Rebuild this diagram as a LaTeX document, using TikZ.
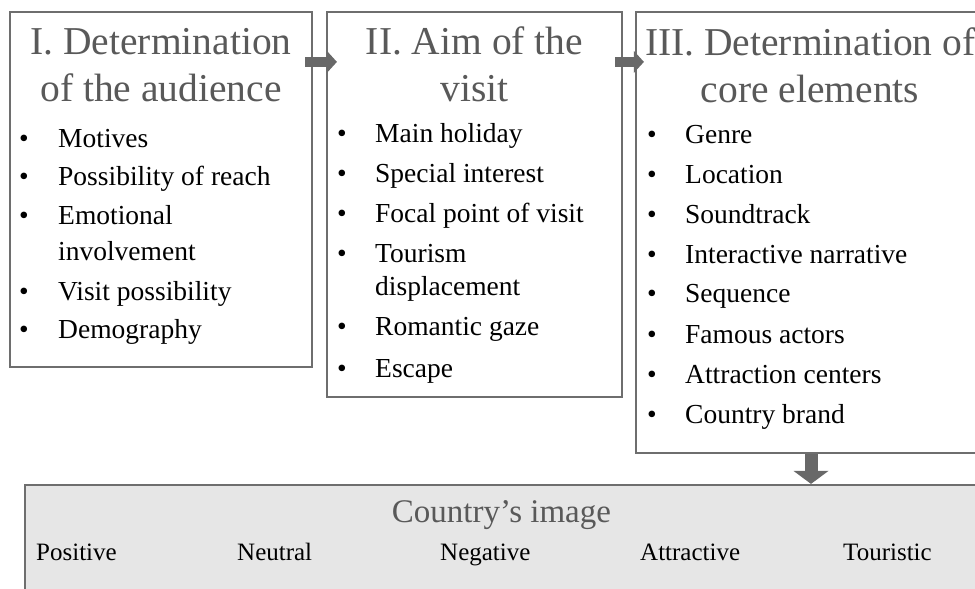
\documentclass[tikz,border=0pt]{standalone}
\usepackage{fontspec}
\setmainfont{Liberation Serif}
\usepackage{tikz}
\usetikzlibrary{positioning, arrows.meta, calc}

\definecolor{boxgray}{HTML}{6E6E6E}
\definecolor{headgray}{HTML}{595959}
\definecolor{arrowgray}{HTML}{686868}
\definecolor{imagefill}{HTML}{E6E6E6}

\tikzset{
  panel/.style = {draw = boxgray, line width = 2.2pt, inner sep = 0pt},
  heading/.style = {text = headgray, font = \fontsize{39.5}{47}\selectfont, anchor = base, inner sep = 0pt},
  item/.style = {font = \fontsize{27.5}{34}\selectfont, anchor = base west, inner sep = 0pt},
  dot/.style = {font = \fontsize{27.5}{34}\selectfont, anchor = base, inner sep = 0pt},
  label/.style = {font = \fontsize{25}{30}\selectfont, anchor = base west, inner sep = 0pt},
  flow/.style = {draw = arrowgray, line width = 10pt,
    -{Triangle[length = 10pt 0 0, width = 22pt 0 0, line width = 0pt 0 0]}},
  bigflow/.style = {draw = arrowgray, line width = 13pt,
    -{Triangle[length = 13pt 0 0, width = 35pt 0 0, line width = 0pt 0 0]}},
}

\begin{document}
\begin{tikzpicture}[x = 1pt, y = -1pt]
            \useasboundingbox (0, 0) rectangle (975, 589);
            \clip (0, 0) rectangle (975, 589);

            % the three boxes and the result box
            \node [panel, minimum width = 302pt, minimum height = 355pt] (aud) at (161, 189.5) {};
            \node [panel, minimum width = 295pt, minimum height = 385pt] (aim) at (474.5, 204.5) {};
            \node [panel, minimum width = 364pt, minimum height = 441pt] (core) at (818, 232.5) {};
            \node [panel, fill = imagefill, minimum width = 985pt, minimum height = 135pt] (image) at (517.5, 552.5) {};

            % I
            \node [heading] (audT1) at (161, 54) {I. Determination};
            \node [heading] (audT2) at (161, 101) {of the audience};
            \foreach \txt/\yy [count = \i] in {Motives/147, Possibility of reach/185, Emotional/224, Visit possibility/300, Demography/338} {
                \node [dot] (audB\i) at (24, \yy) {\textbullet};
                \node [item] (audI\i) at (58, \yy) {\txt};
            }
            \node [item] (audI6) at (58, 260) {involvement};

            % II
            \node [heading] (aimT1) at (474.5, 54) {II. Aim of the};
            \node [heading] (aimT2) at (474.5, 101) {visit};
            \foreach \txt/\yy [count = \i] in {Main holiday/142, Special interest/182, Focal point of visit/222, Tourism/262, Romantic gaze/335, Escape/377} {
                \node [dot] (aimB\i) at (342, \yy) {\textbullet};
                \node [item] (aimI\i) at (375, \yy) {\txt};
            }
            \node [item] (aimI7) at (375, 295) {displacement};

            % III
            \node [heading, anchor = base west] (coreT1) at (645, 55) {III. Determination of};
            \node [heading] (coreT2) at (810, 102) {core elements};
            \foreach \txt/\yy [count = \i] in {Genre/143, Location/183, Soundtrack/223, Interactive narrative/263, Sequence/302, Famous actors/343, Attraction centers/383, Country brand/423} {
                \node [dot] (coreB\i) at (652, \yy) {\textbullet};
                \node [item] (coreI\i) at (685, \yy) {\txt};
            }

            % image of the country
            \node [heading, font = \fontsize{33}{40}\selectfont] (imgT) at (501.5, 522) {Country’s image};
            \node [label] (pos) at (36, 560) {Positive};
            \node [label] (neu) at (237, 560) {Neutral};
            \node [label] (neg) at (440, 560) {Negative};
            \node [label] (att) at (640, 560) {Attractive};
            \node [label] (tou) at (843, 560) {Touristic};

            \draw [flow] ([xshift = -8pt, yshift = -51pt]aud.north east) -- ([xshift = 11pt, yshift = -51pt]aim.north west);
            \draw [flow] ([xshift = -8pt, yshift = -51pt]aim.north east) -- ([xshift = 9pt, yshift = -51pt]core.north west);
            \draw [bigflow] ([xshift = -7pt]core.south) -- ([xshift = -7pt]core.south |- image.north);
        \end{tikzpicture}
\end{document}
